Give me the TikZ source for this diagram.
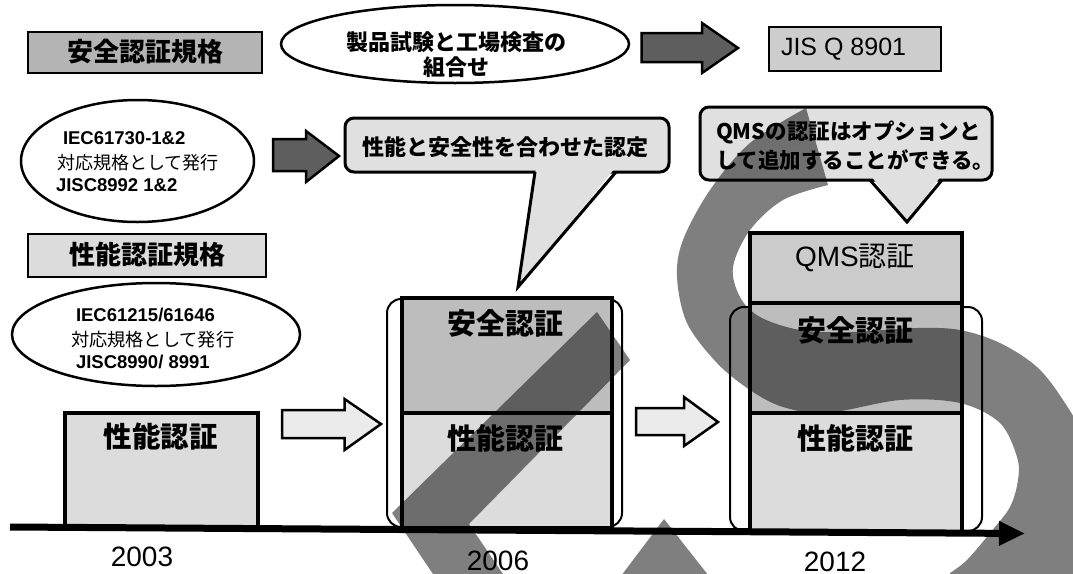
\documentclass[tikz,border=0pt]{standalone}
\usepackage{fontspec}
\setmainfont{Liberation Sans}
\newfontfamily\jp{Noto Sans CJK JP}
\usetikzlibrary{shapes.geometric,arrows.meta}
\newcommand{\fsz}[1]{\fontsize{#1}{#1}\selectfont}
\definecolor{cDark}{HTML}{B4B4B4}
\definecolor{cLight}{HTML}{DCDCDC}
\definecolor{cJis}{HTML}{CDCDCD}
\definecolor{cCall}{HTML}{E0E0E0}
\definecolor{cSafe}{HTML}{BDBDBD}
\definecolor{cQms}{HTML}{CBCBCB}
\definecolor{cArrD}{HTML}{5E5E5E}
\definecolor{cArrL}{HTML}{EBEBEB}
\begin{document}
\begin{tikzpicture}[x=1pt,y=-1pt,
  every node/.style={inner sep=0pt, outer sep=0pt},
  titlebox/.style={draw, line width=1.6pt},
  stackbox/.style={draw, line width=3.5pt},
  groupframe/.style={draw, line width=2pt, rounded corners=14pt, fill=white},
  ovalbox/.style={ellipse, draw, line width=2.5pt, fill=white},
  darkarrow/.style={draw, line width=2.5pt, fill=cArrD},
  lightarrow/.style={draw, line width=2.5pt, fill=cArrL},
  callbox/.style={draw, line width=3pt, rounded corners=9pt, fill=cCall},
  jpbold/.style={font=\jp\bfseries\fsz{#1}},
  jpreg/.style={font=\jp\fsz{#1}},
  latbold/.style={font=\bfseries\fsz{#1}},
  latreg/.style={font=\fsz{#1}},
  wm/.style={fill=black, opacity=0.5}
]
\useasboundingbox (0,0) rectangle (1073,573);
\fill[white] (0,0) rectangle (1073,573);

% ---- top row ----
\node[titlebox, fill=cDark, minimum width=234pt, minimum height=41pt] (safeStd) at (145,52.5) {};
\node[jpbold=26] (safeStdT) at (145,52) {安全認証規格};

\node[ovalbox, minimum width=348pt, minimum height=78pt] (combo) at (455,44) {};
\node[jpbold=22] (comboT1) at (456,42) {製品試験と工場検査の};
\node[jpbold=22] (comboT2) at (456,67) {組合せ};

\draw[darkarrow] (641.5,33) -- (702,33) -- (702,23) -- (738,48) -- (702,73) -- (702,62) -- (641.5,62) -- cycle;

\node[titlebox, fill=cJis, minimum width=172pt, minimum height=44pt] (jis) at (855,49) {};
\node[latreg=25, anchor=west] (jisT) at (781,49) {JIS Q 8901};

% ---- second row ----
\node[ovalbox, minimum width=233pt, minimum height=122pt] (iec1) at (137.5,161) {};
\node[latbold=18.5, anchor=west] (iec1a) at (63,138) {IEC61730-1\&2};
\node[jpreg=18, anchor=west] (iec1b) at (57,163) {対応規格として発行};
\node[latbold=18.5, anchor=west] (iec1c) at (56,185) {JISC8992 1\&2};

\draw[darkarrow] (273,139) -- (306,139) -- (306,131) -- (339,156) -- (306,182) -- (306,171) -- (273,171) -- cycle;

% callout 1
\node[callbox, minimum width=324pt, minimum height=54pt] (call1) at (507,145) {};
\coordinate (call1tip) at (518,287);
\fill[cCall] (536,168) -- (615,168) -- (call1tip) -- cycle;
\draw[line width=3pt, line join=miter] (535,172) -- (call1tip) -- (616,172);
\node[jpbold=22] (call1T) at (505,147) {性能と安全性を合わせた認定};

% callout 2
\node[callbox, minimum width=292pt, minimum height=73pt] (call2) at (846,143.5) {};
\coordinate (call2tip) at (907,222);
\fill[cCall] (871,176) -- (941,176) -- (call2tip) -- cycle;
\draw[line width=3pt, line join=miter] (870,180) -- (call2tip) -- (942,180);
\node[jpbold=21.5, anchor=west] (call2T1) at (716,132) {QMSの認証はオプションと};
\node[jpbold=21.5, anchor=west] (call2T2) at (716,160) {して追加することができる。};

% ---- third row ----
\node[titlebox, fill=cLight, minimum width=238pt, minimum height=43pt] (perfStd) at (147,255.5) {};
\node[jpbold=26] (perfStdT) at (147,255) {性能認証規格};

\node[ovalbox, minimum width=288pt, minimum height=103pt] (iec2) at (156,334.5) {};
\node[latbold=18.5, anchor=west] (iec2a) at (76,315) {IEC61215/61646};
\node[jpreg=18.2, anchor=west] (iec2b) at (71,340) {対応規格として発行};
\node[latbold=18.5, anchor=west] (iec2c) at (76,362) {JISC8990/ 8991};

% ---- 2003 ----
\node[stackbox, fill=cLight, minimum width=193pt, minimum height=115pt] (p03) at (161.5,470.5) {};
\node[jpbold=28.5] (p03T) at (160.5,437) {性能認証};

\draw[lightarrow] (282,410) -- (344.5,410) -- (344.5,399) -- (381,424) -- (344.5,450) -- (344.5,438) -- (282,438) -- cycle;

% ---- 2006 ----
\node[groupframe, minimum width=235pt, minimum height=228pt] (g06) at (504.5,413) {};
\node[stackbox, fill=cSafe, minimum width=210pt, minimum height=115pt] (s06) at (507,355.5) {};
\node[stackbox, fill=cLight, minimum width=210pt, minimum height=115pt] (p06) at (507,470.5) {};
\node[jpbold=29] (s06T) at (505,323) {安全認証};
\node[jpbold=29] (p06T) at (505,438) {性能認証};

\draw[lightarrow] (636,408) -- (684,408) -- (684,397) -- (718,422) -- (684,446) -- (684,435) -- (636,435) -- cycle;

% ---- 2012 ----
\node[groupframe, minimum width=252pt, minimum height=224pt] (g12) at (856,419) {};
\node[stackbox, fill=cQms, minimum width=212pt, minimum height=70pt] (q12) at (856,268) {};
\node[stackbox, fill=cSafe, minimum width=212pt, minimum height=110pt] (s12) at (856,358) {};
\node[stackbox, fill=cLight, minimum width=212pt, minimum height=119pt] (p12) at (856,472.5) {};
\node[font=\fsz{28}] (q12T) at (855,258) {QMS{\jp 認証}};
\node[jpbold=29] (s12T) at (855,330) {安全認証};
\node[jpbold=29] (p12T) at (855,438) {性能認証};

% ---- timeline ----
\coordinate (tl0) at (10,527);
\coordinate (tl1) at (1025,533.5);
\draw[line width=7pt, -{Triangle[length=26pt,width=23pt]}] (tl0) -- (tl1);
\node[latreg=28] (y03) at (142,557) {2003};
\node[latreg=28] (y06) at (498,561) {2006};
\node[latreg=28] (y12) at (835,562) {2012};

% ---- watermark ----
\begin{scope}
\clip (0,0) rectangle (1073,573);
\fill[wm] (806,108)
  -- plot[smooth, tension=0.55] coordinates {(828,185) (783,200) (750,230) (733,267) (740,297) (760,317) (800,330) (850,332) (917,328) (960,330) (1000,343) (1037,367) (1063,400) (1085,440) (1100,500) (1100,580)}
  -- (950,580)
  -- plot[smooth, tension=0.55] coordinates {(950,573) (967,560) (990,533) (1010,507) (1018,480) (1017,457) (1000,423) (960,403) (900,400) (827,413) (783,407) (750,390) (717,363) (687,323) (677,277) (683,240) (710,190) (750,143) (806,108)}
  -- cycle;
\fill[wm] (597,312) -- (630,360) -- (469,524) -- (507,580) -- (437,580) -- (392,513) -- cycle;
\fill[wm] (618,580) -- (664,519) -- (712,580) -- cycle;
\end{scope}
\end{tikzpicture}
\end{document}
